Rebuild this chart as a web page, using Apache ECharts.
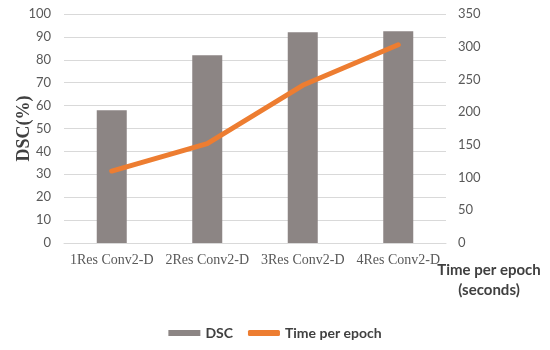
<!DOCTYPE html>
<html>
<head>
<meta charset="utf-8">
<script src="https://cdn.jsdelivr.net/npm/echarts@6/dist/echarts.min.js"></script>
<style>html,body{margin:0;padding:0;background:#fff}#c{width:550px;height:350px}</style>
</head>
<body>
<div id="c"></div>
<script>
var categories = ['1Res Conv2-D', '2Res Conv2-D', '3Res Conv2-D', '4Res Conv2-D'];
var dscValues = [58, 82, 92, 92.5];
var timeValues = [110, 152, 241, 303];
var leftTicks = {min: 0, max: 100, interval: 10};
var rightTicks = {min: 0, max: 350, interval: 50};

var chart = echarts.init(document.getElementById('c'));
var sans = 'Lato, "Liberation Sans", sans-serif';
var serif = '"Liberation Serif", "Times New Roman", serif';
chart.setOption({
  animation: false,
  grid: {left: 64, right: 104, top: 14, bottom: 107},
  legend: {
    bottom: 5, left: 'center',
    itemWidth: 32, itemHeight: 6, itemGap: 15,
    textStyle: {fontFamily: sans, fontSize: 14, fontWeight: 'bold', color: '#404040'},
    data: [{name: 'DSC', icon: 'rect'}, {name: 'Time per epoch', icon: 'roundRect'}]
  },
  xAxis: {
    type: 'category', data: categories,
    axisLine: {lineStyle: {color: '#d9d9d9'}},
    axisTick: {show: false},
    axisLabel: {interval: 0, margin: 10, fontFamily: serif, fontSize: 14, color: '#595959'}
  },
  yAxis: [{
    type: 'value', min: leftTicks.min, max: leftTicks.max, interval: leftTicks.interval,
    name: 'DSC(%)', nameLocation: 'middle', nameGap: 31, nameMoveOverlap: false,
    nameTextStyle: {fontFamily: serif, fontSize: 18, fontWeight: 'bold', color: '#404040'},
    axisLine: {show: false}, axisTick: {show: false},
    axisLabel: {margin: 13, fontFamily: sans, fontSize: 13, color: '#595959'},
    splitLine: {lineStyle: {color: '#d9d9d9', width: 1}}
  }, {
    type: 'value', min: rightTicks.min, max: rightTicks.max, interval: rightTicks.interval,
    position: 'right',
    name: 'Time per epoch\n(seconds)', nameLocation: 'start', nameGap: 17, nameMoveOverlap: false,
    nameTextStyle: {fontFamily: sans, fontSize: 15, fontWeight: 'bold', color: '#404040', align: 'center', lineHeight: 20, padding: [0, 0, 0, 86]},
    axisLine: {show: false}, axisTick: {show: false},
    axisLabel: {margin: 12, fontFamily: sans, fontSize: 13, color: '#595959'},
    splitLine: {show: false}
  }],
  series: [{
    name: 'DSC', type: 'bar', data: dscValues, barWidth: 30,
    itemStyle: {color: '#8c8584'}
  }, {
    name: 'Time per epoch', type: 'line', yAxisIndex: 1, data: timeValues,
    showSymbol: false, symbol: 'none',
    lineStyle: {color: '#ed7d31', width: 5, cap: 'round', join: 'round'},
    itemStyle: {color: '#ed7d31'}
  }]
});
</script>
</body>
</html>
